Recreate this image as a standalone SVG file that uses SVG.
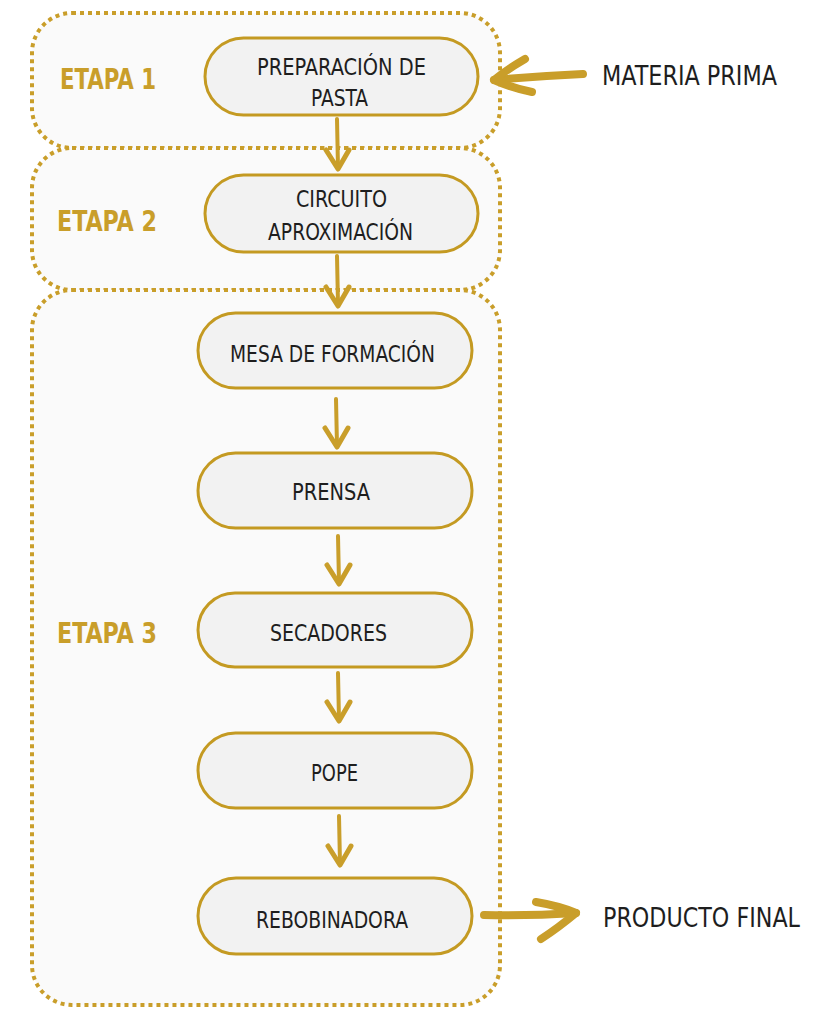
<svg xmlns="http://www.w3.org/2000/svg" width="814" height="1009" viewBox="0 0 814 1009">
  <defs>
    <style>
      .stage { fill: #FAFAFA; stroke: #C99E2A; stroke-width: 4; stroke-dasharray: 4 4; }
      .node { fill: #F2F2F2; stroke: #C49A22; stroke-width: 3; }
      .label { font-family: "DejaVu Sans Condensed", "Liberation Sans Narrow", Roboto, sans-serif; font-stretch: condensed; font-size: 23px; fill: #1E1E1E; }
      .stage-title { font-family: "DejaVu Sans Condensed", "Liberation Sans Narrow", Roboto, sans-serif; font-stretch: condensed; font-weight: bold; font-size: 28px; fill: #C99E2A; }
      .side { font-family: "DejaVu Sans Condensed", "Liberation Sans Narrow", Roboto, sans-serif; font-stretch: condensed; font-size: 26px; fill: #1E1E1E; }
      .shaft { fill: none; stroke: #C99E2A; stroke-width: 4; stroke-linecap: round; }
      .head { fill: none; stroke: #C99E2A; stroke-width: 5; stroke-linecap: round; stroke-linejoin: round; }
      .brush { fill: none; stroke: #C99E2A; stroke-width: 8; stroke-linecap: round; stroke-linejoin: round; }
    </style>
  </defs>

  <rect width="814" height="1009" fill="#FFFFFF"/>

  <!-- stage containers -->
  <g id="etapa-1">
    <rect class="stage" x="32" y="13" width="468" height="135" rx="40"/>
    <text class="stage-title" x="60" y="89" textLength="96" lengthAdjust="spacingAndGlyphs">ETAPA 1</text>
  </g>
  <g id="etapa-2">
    <rect class="stage" x="32" y="148" width="468" height="142" rx="40"/>
    <text class="stage-title" x="57" y="231" textLength="100" lengthAdjust="spacingAndGlyphs">ETAPA 2</text>
  </g>
  <g id="etapa-3">
    <rect class="stage" x="32" y="290" width="468" height="715" rx="40"/>
    <text class="stage-title" x="57" y="643" textLength="100" lengthAdjust="spacingAndGlyphs">ETAPA 3</text>
  </g>

  <!-- process steps -->
  <g id="preparacion-de-pasta">
    <rect class="node" x="205" y="38" width="273" height="77" rx="38.5"/>
    <text class="label" x="257" y="75" textLength="169" lengthAdjust="spacingAndGlyphs">PREPARACIÓN DE</text>
    <text class="label" x="311" y="106" textLength="57" lengthAdjust="spacingAndGlyphs">PASTA</text>
  </g>
  <g id="circuito-aproximacion">
    <rect class="node" x="205" y="175" width="273" height="77" rx="38.5"/>
    <text class="label" x="296" y="207" textLength="91" lengthAdjust="spacingAndGlyphs">CIRCUITO</text>
    <text class="label" x="268" y="240" textLength="145" lengthAdjust="spacingAndGlyphs">APROXIMACIÓN</text>
  </g>
  <g id="mesa-de-formacion">
    <rect class="node" x="198" y="313" width="274" height="75" rx="37.5"/>
    <text class="label" x="230" y="362" textLength="205" lengthAdjust="spacingAndGlyphs">MESA DE FORMACIÓN</text>
  </g>
  <g id="prensa">
    <rect class="node" x="198" y="453" width="274" height="75" rx="37.5"/>
    <text class="label" x="292" y="500" textLength="78" lengthAdjust="spacingAndGlyphs">PRENSA</text>
  </g>
  <g id="secadores">
    <rect class="node" x="198" y="593" width="274" height="74" rx="37"/>
    <text class="label" x="270" y="641" textLength="117" lengthAdjust="spacingAndGlyphs">SECADORES</text>
  </g>
  <g id="pope">
    <rect class="node" x="198" y="733" width="274" height="75" rx="37.5"/>
    <text class="label" x="311" y="781" textLength="47" lengthAdjust="spacingAndGlyphs">POPE</text>
  </g>
  <g id="rebobinadora">
    <rect class="node" x="198" y="878" width="274" height="76" rx="38"/>
    <text class="label" x="256" y="928" textLength="152" lengthAdjust="spacingAndGlyphs">REBOBINADORA</text>
  </g>

  <!-- input / output labels -->
  <g id="materia-prima">
    <text class="side" x="602" y="85" textLength="175" lengthAdjust="spacingAndGlyphs">MATERIA PRIMA</text>
  </g>
  <g id="producto-final">
    <text class="side" x="603" y="927" textLength="197" lengthAdjust="spacingAndGlyphs">PRODUCTO FINAL</text>
  </g>

  <!-- connectors -->
  <g id="connectors">
    <path class="shaft" d="M337,119 L338,168"/>
    <path class="head" d="M326,150 L338,169 L349,150"/>

    <path class="shaft" d="M337,256 L338,304"/>
    <path class="head" d="M326,287 L338,306 L349,287"/>

    <path class="shaft" d="M336,399 L337,446"/>
    <path class="head" d="M325,428 L337,447 L348,428"/>

    <path class="shaft" d="M338,536 L339,583"/>
    <path class="head" d="M327,565 L339,584 L350,565"/>

    <path class="shaft" d="M338,673 L339,720"/>
    <path class="head" d="M327,702 L339,721 L350,702"/>

    <path class="shaft" d="M339,816 L340,864"/>
    <path class="head" d="M328,846 L340,865 L351,846"/>

    <!-- raw material in -->
    <path class="brush" d="M583,74 Q540,76 494,80"/>
    <path class="brush" d="M525,59 Q506,70 494,80 Q512,88 532,92"/>

    <!-- final product out -->
    <path class="brush" d="M484,915 Q530,916 576,913"/>
    <path class="brush" d="M536,902 Q560,906 576,913 Q558,928 541,939"/>
  </g>
</svg>
